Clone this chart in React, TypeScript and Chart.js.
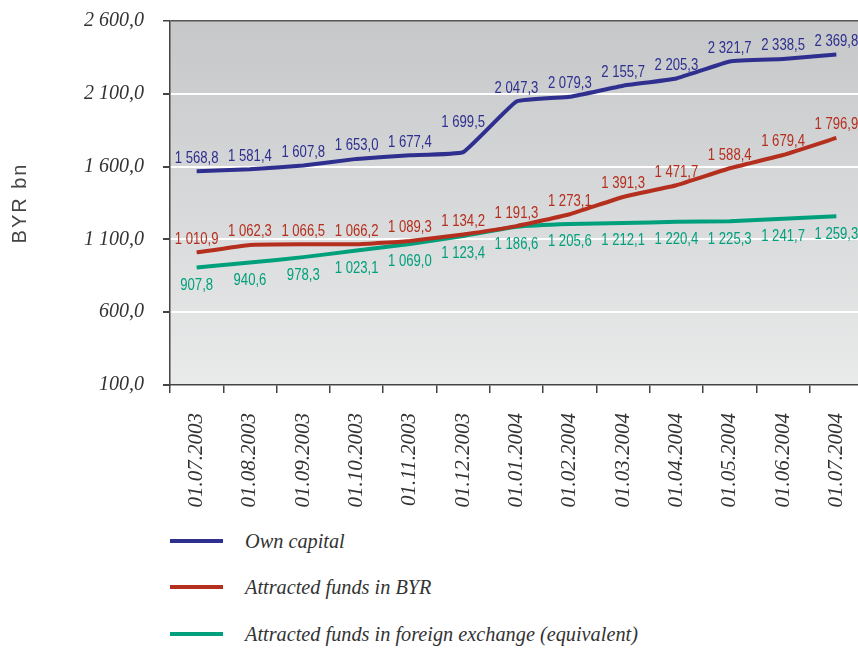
import React, { useEffect, useRef } from "react";
import { Chart, registerables } from "chart.js";

Chart.register(...registerables);

const categories = [
  "01.07.2003", "01.08.2003", "01.09.2003", "01.10.2003", "01.11.2003", "01.12.2003",
  "01.01.2004", "01.02.2004", "01.03.2004", "01.04.2004", "01.05.2004", "01.06.2004", "01.07.2004",
];
const ownCapital = [1568.8, 1581.4, 1607.8, 1653.0, 1677.4, 1699.5, 2047.3, 2079.3, 2155.7, 2205.3, 2321.7, 2338.5, 2369.8];
const fundsBYR = [1010.9, 1062.3, 1066.5, 1066.2, 1089.3, 1134.2, 1191.3, 1273.1, 1391.3, 1471.7, 1588.4, 1679.4, 1796.9];
const fundsFX = [907.8, 940.6, 978.3, 1023.1, 1069.0, 1123.4, 1186.6, 1205.6, 1212.1, 1220.4, 1225.3, 1241.7, 1259.3];
const seriesNames = ["Own capital", "Attracted funds in BYR", "Attracted funds in foreign exchange (equivalent)"];
const seriesColors = ["#2e2f8e", "#b52f1e", "#00a07c"];
const yMin = 100;
const yMax = 2600;
const yStep = 500;
const yTitle = "BYR bn";

const CANVAS_W = 863;
const CANVAS_H = 520;

function fmt(v: number): string {
  const s = v.toFixed(1);
  const [i, d] = s.split(".");
  return i.replace(/\B(?=(\d{3})+(?!\d))/g, " ") + "," + d;
}

const bgPlugin = {
  id: "bgGrad",
  beforeDraw(chart: any) {
    const { ctx, chartArea } = chart;
    if (!chartArea) return;
    const g = ctx.createLinearGradient(0, chartArea.top, 0, chartArea.bottom);
    g.addColorStop(0, "#c6c7c9");
    g.addColorStop(1, "#e9eaea");
    ctx.save();
    ctx.fillStyle = g;
    ctx.fillRect(chartArea.left, chartArea.top, chartArea.right - chartArea.left, chartArea.bottom - chartArea.top);
    ctx.restore();
  },
};

// vertical label offsets (px) per series, with a nudge for the crowded label at the December jump
const labelOffsets = [-13, -13, 18];
const labelNudges: Record<string, number> = { "0-5": -30 };

const dataLabelPlugin = {
  id: "dataLabels",
  afterDatasetsDraw(chart: any) {
    const { ctx } = chart;
    const sx = 0.82;
    chart.data.datasets.forEach((ds: any, di: number) => {
      const meta = chart.getDatasetMeta(di);
      meta.data.forEach((el: any, i: number) => {
        const off = labelNudges[`${di}-${i}`] ?? labelOffsets[di];
        ctx.save();
        ctx.font = "16px 'Liberation Sans', Arial, sans-serif";
        ctx.textAlign = "center";
        ctx.textBaseline = "middle";
        ctx.fillStyle = ds.borderColor;
        ctx.translate(el.x, el.y + off);
        ctx.scale(sx, 1);
        ctx.fillText(fmt(ds.data[i]), 0, 0);
        ctx.restore();
      });
    });
  },
};

const titlePlugin = {
  id: "yTitle",
  afterDraw(chart: any) {
    const { ctx, chartArea } = chart;
    ctx.save();
    ctx.translate(20, (chartArea.top + chartArea.bottom) / 2);
    ctx.rotate(-Math.PI / 2);
    ctx.font = "20px 'Liberation Sans', Arial, sans-serif";
    (ctx as any).letterSpacing = "2px";
    ctx.fillStyle = "#444";
    ctx.textAlign = "center";
    ctx.textBaseline = "middle";
    ctx.fillText(yTitle, 0, 0);
    ctx.restore();
  },
};

function LineChart() {
  const ref = useRef<HTMLCanvasElement | null>(null);
  useEffect(() => {
    if (!ref.current) return;
    const seriesData = [ownCapital, fundsBYR, fundsFX];
    const chart = new Chart(ref.current, {
      type: "line",
      data: {
        labels: categories,
        datasets: seriesData.map((d, i) => ({
          label: seriesNames[i],
          data: d,
          borderColor: seriesColors[i],
          backgroundColor: seriesColors[i],
          borderWidth: 4,
          pointRadius: 0,
          tension: 0.1,
          fill: false,
        })),
      },
      options: {
        animation: false,
        responsive: false,
        devicePixelRatio: 1,
        layout: { padding: { top: 21, left: 0, right: 0, bottom: 0 } },
        plugins: { legend: { display: false }, tooltip: { enabled: false } },
        scales: {
          x: {
            offset: true,
            afterFit: (s: any) => {
              s.height = CANVAS_H - 385;
              s.paddingLeft = 0;
              s.paddingRight = 0;
              s.paddingTop = 0;
              s.paddingBottom = 0;
            },
            grid: { drawOnChartArea: false, offset: true, tickLength: 8, tickColor: "#444", lineWidth: 1.5 },
            border: { color: "#444", width: 1.5 },
            ticks: {
              minRotation: 90,
              maxRotation: 90,
              padding: 20,
              autoSkip: false,
              color: "#333",
              font: { family: "'Liberation Serif', 'Times New Roman', serif", style: "italic", size: 21 },
            },
          },
          y: {
            min: yMin,
            max: yMax,
            afterFit: (s: any) => {
              s.width = 170;
              s.paddingTop = 0;
              s.paddingBottom = 0;
              s.paddingLeft = 0;
              s.paddingRight = 0;
            },
            afterBuildTicks: (s: any) => {
              const t = [];
              for (let v = yMin; v <= yMax; v += yStep) t.push({ value: v });
              s.ticks = t;
            },
            grid: {
              color: (c: any) => (c.tick && c.tick.value === yMax ? "#555" : c.tick && c.tick.value === yMin ? "rgba(0,0,0,0)" : "#ffffff"),
              lineWidth: (c: any) => (c.tick && c.tick.value === yMax ? 1.5 : 2),
              tickColor: "#444",
              tickLength: 7,
            },
            border: { color: "#444", width: 1.5 },
            ticks: {
              padding: 19,
              color: "#333",
              font: { family: "'Liberation Serif', 'Times New Roman', serif", style: "italic", size: 20 },
              callback: (v: any) => fmt(Number(v)),
            },
          },
        },
      },
      plugins: [bgPlugin, dataLabelPlugin, titlePlugin],
    });
    return () => chart.destroy();
  }, []);
  return <canvas ref={ref} width={CANVAS_W} height={CANVAS_H} style={{ display: "block", width: CANVAS_W, height: CANVAS_H }} />;
}

const legendRowsY = [541, 587, 634];

export default function App() {
  return (
    <div style={{ position: "absolute", left: 0, top: 0, width: 858, height: 648, overflow: "hidden", background: "#fff" }}>
      <LineChart />
      {seriesNames.map((name, i) => (
        <div key={name} style={{ position: "absolute", left: 0, top: legendRowsY[i] - 15, height: 30, width: 858 }}>
          <div style={{ position: "absolute", left: 170, top: 13, width: 53, height: 4, background: seriesColors[i] }} />
          <div
            style={{
              position: "absolute",
              left: 245,
              top: 0,
              lineHeight: "30px",
              fontFamily: "'Liberation Serif', 'Times New Roman', serif",
              fontStyle: "italic",
              fontSize: 20.3,
              color: "#333",
              whiteSpace: "nowrap",
            }}
          >
            {name}
          </div>
        </div>
      ))}
    </div>
  );
}
